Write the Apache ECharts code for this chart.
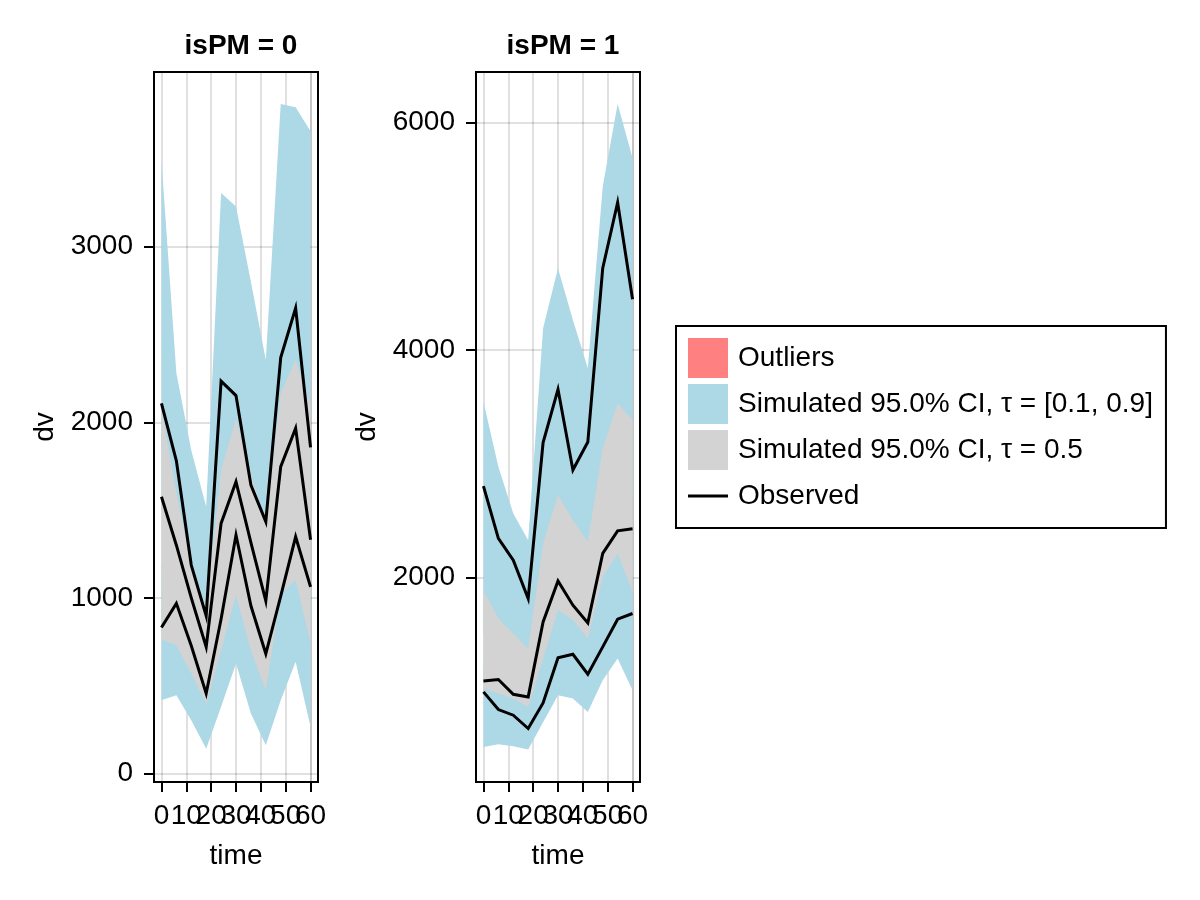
<!DOCTYPE html>
<html>
<head>
<meta charset="utf-8">
<script src="https://cdn.jsdelivr.net/npm/echarts@6/dist/echarts.min.js"></script>
<style>html,body{margin:0;padding:0;background:#fff}#c{width:1200px;height:900px}</style>
</head>
<body>
<div id="c"></div>
<script>
// ---- data ----
const times = [0, 6, 12, 18, 24, 30, 36, 42, 48, 54, 60];
const xTicks = [0, 10, 20, 30, 40, 50, 60];
const yTicksL = [0, 1000, 2000, 3000];
const yTicksR = [2000, 4000, 6000];
const panelTitles = ['isPM = 0', 'isPM = 1'];

// isPM = 0 : simulated CI bands
const hi90_upper_L = [3490, 2280, 1840, 1519, 3305, 3229, 2800, 2355, 3812, 3793, 3656];
const hi90_lower_L = [1500, 1200, 900, 700, 1300, 1600, 1300, 1000, 1700, 1800, 1500];
const med_upper_L  = [2080, 1600, 1180, 950, 1728, 2020, 1700, 1430, 2166, 2355, 2100];
const med_lower_L  = [763, 731, 570, 399, 700, 1016, 700, 475, 1025, 1100, 742];
const lo10_upper_L = [1200, 1100, 800, 600, 1100, 1400, 1100, 800, 1400, 1500, 1200];
const lo10_lower_L = [418, 446, 304, 142, 380, 627, 342, 161, 418, 636, 266];
// isPM = 0 : observed quantiles
const obsHi_L  = [2108, 1780, 1187, 898, 2234, 2152, 1643, 1434, 2368, 2650, 1857];
const obsMid_L = [1576, 1300, 1000, 721, 1424, 1662, 1315, 983, 1747, 1966, 1331];
const obsLo_L  = [832, 969, 728, 456, 880, 1358, 955, 682, 1010, 1348, 1063];

// isPM = 1 : simulated CI bands
const hi90_upper_R = [3545, 2973, 2563, 2328, 4191, 4718, 4264, 3839, 5437, 6161, 5686];
const hi90_lower_R = [1500, 1300, 1200, 1100, 1800, 2200, 2000, 1900, 2600, 2900, 2700];
const med_upper_R  = [1888, 1639, 1507, 1375, 2299, 2724, 2504, 2313, 3135, 3531, 3384];
const med_lower_R  = [1023, 979, 935, 862, 1287, 1713, 1625, 1463, 2005, 2211, 1873];
const lo10_upper_R = [1300, 1200, 1100, 1000, 1500, 1900, 1800, 1650, 2300, 2500, 2200];
const lo10_lower_R = [510, 534, 516, 487, 727, 965, 935, 818, 1096, 1287, 1009];
// isPM = 1 : observed quantiles
const obsHi_R  = [2803, 2343, 2152, 1815, 3185, 3654, 2944, 3190, 4718, 5296, 4446];
const obsMid_R = [1089, 1103, 973, 950, 1609, 1970, 1756, 1601, 2211, 2410, 2428];
const obsLo_R  = [994, 839, 789, 672, 897, 1293, 1325, 1149, 1390, 1633, 1683];

const NAME_OUT = 'Outliers';
const NAME_BLUE = 'Simulated 95.0% CI, \u03c4 = [0.1, 0.9]';
const NAME_GRAY = 'Simulated 95.0% CI, \u03c4 = 0.5';
const NAME_OBS = 'Observed';

// ---- style ----
const FONT = '"Liberation Sans", Arial, Helvetica, sans-serif';
const FS = 28;
const BLUE = '#ADD8E6', GRAY = '#D3D3D3', RED = '#FF8080';
const GRIDLINE = 'rgba(0,0,0,0.12)';

// label positions: the real ticks plus an empty spacer just before the last one,
// so ECharts' min/max-label overlap check never hides a real label
const lastX = xTicks[xTicks.length - 1];
const xLabelVals = xTicks.slice(0, -1).concat([lastX - 1e-6, lastX]);
const xTickVals = xLabelVals.slice();

function band(name, idx, lo, hi, color) {
  return {
    type: 'custom', name: name, xAxisIndex: idx, yAxisIndex: idx,
    itemStyle: { color: color },
    data: times.map((t, i) => [t, lo[i], hi[i]]),
    encode: { x: 0, y: [1, 2] },
    silent: true, z: 1,
    renderItem: function (params, api) {
      if (params.dataIndex !== 0) return null;
      const up = [], dn = [];
      for (let i = 0; i < times.length; i++) {
        up.push(api.coord([api.value(0, i), api.value(2, i)]));
        dn.push(api.coord([api.value(0, i), api.value(1, i)]));
      }
      return { type: 'polygon', shape: { points: up.concat(dn.reverse()) }, style: { fill: color } };
    }
  };
}
function obsLine(idx, vals) {
  return {
    type: 'line', name: NAME_OBS, xAxisIndex: idx, yAxisIndex: idx,
    data: times.map((t, i) => [t, vals[i]]),
    symbol: 'none', color: '#000', silent: true, z: 5,
    lineStyle: { color: '#000', width: 3, join: 'miter' }
  };
}
function xAxis(idx) {
  return {
    type: 'value', gridIndex: idx, min: -3, max: 63,
    name: 'time', nameLocation: 'middle', nameGap: 60,
    nameTextStyle: { fontSize: FS, color: '#000', fontFamily: FONT },
    axisLine: { show: false, onZero: false },
    axisTick: { show: true, length: 10, lineStyle: { color: '#000', width: 2 }, customValues: xTickVals },
    axisLabel: { fontSize: FS, color: '#000', fontFamily: FONT, margin: 20, customValues: xLabelVals,
                 showMinLabel: true, showMaxLabel: true,
                 formatter: v => (xTicks.indexOf(v) >= 0 ? String(v) : '') },
    splitLine: { show: true, lineStyle: { color: GRIDLINE, width: 2 } }
  };
}
function yAxis(idx, min, max, ticks) {
  return {
    type: 'value', gridIndex: idx, min: min, max: max,
    name: 'dv', nameLocation: 'middle', nameGap: 95, nameRotate: 90,
    nameTextStyle: { fontSize: FS, color: '#000', fontFamily: FONT },
    axisLine: { show: false, onZero: false },
    axisTick: { show: true, length: 10, lineStyle: { color: '#000', width: 2 }, customValues: ticks },
    axisLabel: { fontSize: FS, color: '#000', fontFamily: FONT, margin: 21, customValues: ticks,
                 showMinLabel: true, showMaxLabel: true, formatter: v => String(v) },
    splitLine: { show: true, lineStyle: { color: GRIDLINE, width: 2 } }
  };
}

const chart = echarts.init(document.getElementById('c'), null, { renderer: 'canvas' });
chart.setOption({
  backgroundColor: '#fff',
  animation: false,
  title: [
    { text: panelTitles[0], left: 236, top: 27, textAlign: 'center',
      textStyle: { fontSize: FS, fontWeight: 'bold', color: '#000', fontFamily: FONT } },
    { text: panelTitles[1], left: 558, top: 27, textAlign: 'center',
      textStyle: { fontSize: FS, fontWeight: 'bold', color: '#000', fontFamily: FONT } }
  ],
  grid: [
    { left: 154, top: 72, width: 164, height: 710, show: true, borderColor: '#000', borderWidth: 2, backgroundColor: 'transparent' },
    { left: 476, top: 72, width: 164, height: 710, show: true, borderColor: '#000', borderWidth: 2, backgroundColor: 'transparent' }
  ],
  xAxis: [xAxis(0), xAxis(1)],
  yAxis: [yAxis(0, -48, 3994, yTicksL), yAxis(1, 202, 6443, yTicksR)],
  legend: {
    orient: 'vertical', left: 676, top: 326,
    padding: [12, 13, 12, 12], itemGap: 6, itemWidth: 40, itemHeight: 40,
    borderColor: '#000', borderWidth: 2, selectedMode: false,
    textStyle: { fontSize: FS, color: '#000', fontFamily: FONT, padding: [0, 0, 0, 5] },
    data: [
      { name: NAME_OUT, icon: 'rect', itemStyle: { color: RED } },
      { name: NAME_BLUE, icon: 'rect', itemStyle: { color: BLUE } },
      { name: NAME_GRAY, icon: 'rect', itemStyle: { color: GRAY } },
      { name: NAME_OBS, icon: 'path://M0,0L0,0M0,18.5L40,18.5L40,21.5L0,21.5ZM40,40L40,40', itemStyle: { color: '#000' } }
    ]
  },
  series: [
    { type: 'line', name: NAME_OUT, xAxisIndex: 0, yAxisIndex: 0, data: [], color: RED, symbol: 'none' },
    band(NAME_BLUE, 0, hi90_lower_L, hi90_upper_L, BLUE),
    band(NAME_BLUE, 0, lo10_lower_L, lo10_upper_L, BLUE),
    band(NAME_GRAY, 0, med_lower_L, med_upper_L, GRAY),
    band(NAME_BLUE, 1, hi90_lower_R, hi90_upper_R, BLUE),
    band(NAME_BLUE, 1, lo10_lower_R, lo10_upper_R, BLUE),
    band(NAME_GRAY, 1, med_lower_R, med_upper_R, GRAY),
    obsLine(0, obsHi_L), obsLine(0, obsMid_L), obsLine(0, obsLo_L),
    obsLine(1, obsHi_R), obsLine(1, obsMid_R), obsLine(1, obsLo_R)
  ]
});
</script>
</body>
</html>
